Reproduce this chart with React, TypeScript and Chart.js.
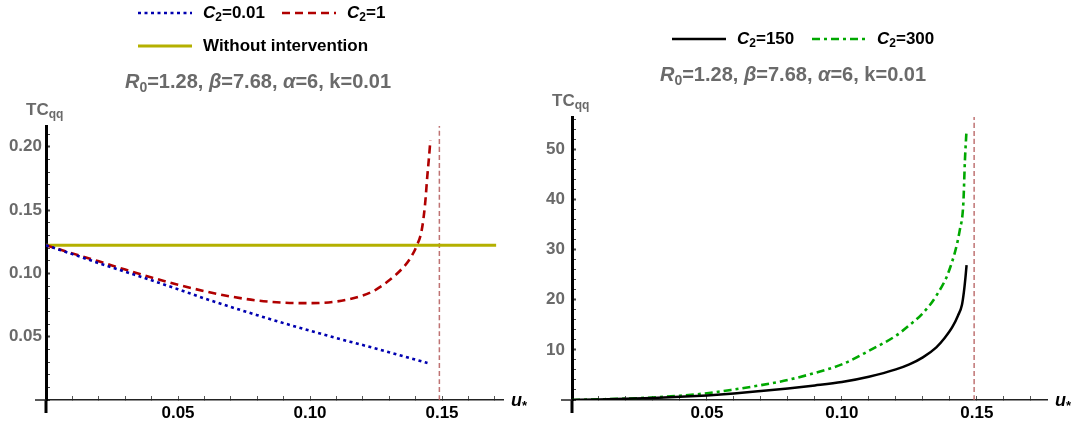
import React, { useEffect, useRef } from "react";
import { Chart, registerables } from "chart.js";

Chart.register(...registerables);

const FONT = '"Liberation Sans", Arial, Helvetica, sans-serif';
const GRAY = "#6a6a6a";

// ---------- Left panel data ----------
const U_C2_001 = [0, 0.01, 0.02, 0.03, 0.04, 0.05, 0.06, 0.07, 0.08, 0.09, 0.1, 0.11, 0.12, 0.13, 0.14, 0.1445];
const TC_C2_001 = [0.1222, 0.1152, 0.1081, 0.1013, 0.0945, 0.0875, 0.0802, 0.0735, 0.067, 0.0607, 0.0547, 0.0489, 0.0434, 0.0377, 0.0319, 0.0293];

const U_C2_1 = [0, 0.01, 0.02, 0.03, 0.04, 0.05, 0.06, 0.07, 0.08, 0.09, 0.1, 0.11, 0.12, 0.125, 0.13, 0.135, 0.138, 0.1405, 0.1423, 0.1436, 0.1444, 0.145, 0.1456];
const TC_C2_1 = [0.1222, 0.1158, 0.1095, 0.103, 0.0968, 0.091, 0.086, 0.0817, 0.0786, 0.0769, 0.0765, 0.0778, 0.0825, 0.0872, 0.0945, 0.104, 0.112, 0.1222, 0.134, 0.155, 0.176, 0.19, 0.2053];

const U_NO_INTERVENTION = [0, 0.1705];
const TC_NO_INTERVENTION = [0.1222, 0.1222];

const U_THRESHOLD = 0.149;

const LEFT_X_MAX = 0.1731;
const LEFT_Y_MAX = 0.2164;
const LEFT_X_TICKS = [0, 0.01, 0.02, 0.03, 0.04, 0.05, 0.06, 0.07, 0.08, 0.09, 0.1, 0.11, 0.12, 0.13, 0.14, 0.15, 0.16, 0.17];
const LEFT_X_LABELS = ["", "", "", "", "", "0.05", "", "", "", "", "0.10", "", "", "", "", "0.15", "", ""];
const LEFT_Y_TICKS = [0, 0.01, 0.02, 0.03, 0.04, 0.05, 0.06, 0.07, 0.08, 0.09, 0.1, 0.11, 0.12, 0.13, 0.14, 0.15, 0.16, 0.17, 0.18, 0.19, 0.2, 0.21];
const LEFT_Y_LABELS = ["", "", "", "", "", "0.05", "", "", "", "", "0.10", "", "", "", "", "0.15", "", "", "", "", "0.20", ""];

// ---------- Right panel data ----------
const U_C2_150 = [0, 0.01, 0.02, 0.03, 0.04, 0.05, 0.06, 0.07, 0.08, 0.09, 0.1, 0.11, 0.12, 0.125, 0.13, 0.135, 0.138, 0.141, 0.143, 0.1445, 0.1452, 0.1458, 0.1462];
const TC_C2_150 = [0, 0.1, 0.24, 0.42, 0.64, 0.92, 1.3, 1.78, 2.3, 2.9, 3.6, 4.65, 6.1, 7.1, 8.5, 10.5, 12.3, 14.6, 16.8, 19.0, 21.5, 24.5, 26.9];

const U_C2_300 = [0, 0.01, 0.02, 0.03, 0.04, 0.05, 0.06, 0.07, 0.08, 0.09, 0.1, 0.11, 0.12, 0.125, 0.13, 0.135, 0.14, 0.1437, 0.145, 0.1456, 0.1462];
const TC_C2_300 = [0, 0.13, 0.28, 0.5, 0.85, 1.35, 2.1, 2.95, 4.0, 5.4, 7.1, 9.8, 12.8, 14.9, 17.3, 20.8, 26.2, 33.9, 39.2, 47.9, 53.9];

const RIGHT_X_MAX = 0.176;
const RIGHT_Y_MAX = 56.4;
const RIGHT_X_TICKS = LEFT_X_TICKS;
const RIGHT_X_LABELS = LEFT_X_LABELS;
const RIGHT_Y_TICKS = [0, 2, 4, 6, 8, 10, 12, 14, 16, 18, 20, 22, 24, 26, 28, 30, 32, 34, 36, 38, 40, 42, 44, 46, 48, 50, 52, 54, 56];
const RIGHT_Y_LABELS = ["", "", "", "", "", "10", "", "", "", "", "20", "", "", "", "", "30", "", "", "", "", "40", "", "", "", "", "50", "", "", ""];

const TITLE = "$R$_{0}=1.28, $β$=7.68, $α$=6, k=0.01";

// ---------- rich text helpers ----------
type Seg = { t: string; it: boolean; sub: boolean };

function parseRich(src: string): Seg[] {
  const out: Seg[] = [];
  let it = false;
  let buf = "";
  const flush = () => {
    if (buf) out.push({ t: buf, it, sub: false });
    buf = "";
  };
  for (let i = 0; i < src.length; i++) {
    const c = src[i];
    if (c === "$") {
      flush();
      it = !it;
    } else if (c === "_" && src[i + 1] === "{") {
      flush();
      const end = src.indexOf("}", i);
      out.push({ t: src.slice(i + 2, end), it: false, sub: true });
      i = end;
    } else {
      buf += c;
    }
  }
  flush();
  return out;
}

function drawRich(ctx: CanvasRenderingContext2D, src: string, x: number, y: number, size: number, color: string, align: "left" | "center") {
  const segs = parseRich(src);
  const fontFor = (s: Seg) => `${s.it ? "italic " : ""}bold ${s.sub ? Math.round(size * 0.72) : size}px ${FONT}`;
  let total = 0;
  for (const s of segs) {
    ctx.font = fontFor(s);
    total += ctx.measureText(s.t).width;
  }
  let cx = align === "center" ? x - total / 2 : x;
  ctx.fillStyle = color;
  ctx.textBaseline = "middle";
  ctx.textAlign = "left";
  for (const s of segs) {
    ctx.font = fontFor(s);
    ctx.fillText(s.t, cx, s.sub ? y + size * 0.3 : y);
    cx += ctx.measureText(s.t).width;
  }
}

type Decor = {
  legendRows: number[][];
  legendCols: number[];
  legendRowY: number[];
  titleX: number;
  titleY: number;
};

function decorPlugin(d: Decor) {
  return {
    id: "decor",
    afterDraw(chart: any) {
      const { ctx, chartArea, scales } = chart;
      const x0 = scales.x.getPixelForValue(0);
      const y0 = scales.y.getPixelForValue(0);
      ctx.save();
      // axis stubs beyond the origin
      ctx.setLineDash([]);
      ctx.strokeStyle = "#000";
      ctx.lineWidth = 3;
      ctx.beginPath();
      ctx.moveTo(x0, y0);
      ctx.lineTo(x0, y0 + 13);
      ctx.stroke();
      ctx.strokeStyle = "#222";
      ctx.lineWidth = 1.5;
      ctx.beginPath();
      ctx.moveTo(x0 - 11, y0);
      ctx.lineTo(x0, y0);
      ctx.stroke();
      // legend
      d.legendRows.forEach((row, r) =>
        row.forEach((di, c) => {
          const ds = chart.data.datasets[di];
          const lx = d.legendCols[c];
          const ly = d.legendRowY[r];
          ctx.setLineDash(ds.borderDash || []);
          ctx.strokeStyle = ds.borderColor;
          ctx.lineWidth = ds.borderWidth;
          ctx.beginPath();
          ctx.moveTo(lx, ly);
          ctx.lineTo(lx + 54, ly);
          ctx.stroke();
          ctx.setLineDash([]);
          drawRich(ctx, ds.label, lx + 65, ly, 17, "#000", "left");
        })
      );
      // title
      drawRich(ctx, TITLE, d.titleX, d.titleY, 20, GRAY, "center");
      // axis labels
      drawRich(ctx, "TC_{qq}", x0 - 20, chartArea.top - 16, 17, GRAY, "left");
      drawRich(ctx, "$u$_{*}", chartArea.right + 8, y0 + 1, 18, "#000", "left");
      ctx.restore();
    },
  };
}

function pts(u: number[], v: number[]) {
  return u.map((x, i) => ({ x, y: v[i] }));
}

function xScale(max: number, ticks: number[], labels: string[]) {
  return {
    type: "linear",
    min: 0,
    max,
    afterBuildTicks: (s: any) => {
      s.ticks = ticks.map((value) => ({ value }));
    },
    afterFit: (s: any) => {
      s.height = 32;
    },
    border: { display: true, color: "#222", width: 1.5 },
    grid: { display: true, drawOnChartArea: false, drawTicks: true, tickLength: -4, tickColor: "#555", tickWidth: 1 },
    ticks: {
      autoSkip: false,
      maxRotation: 0,
      minRotation: 0,
      padding: 7,
      color: "#000",
      font: { family: FONT, size: 17, weight: "bold" },
      callback: (_v: any, i: number) => labels[i] ?? "",
    },
  };
}

function yScale(max: number, ticks: number[], labels: string[], width: number, pad: number) {
  return {
    type: "linear",
    min: 0,
    max,
    afterBuildTicks: (s: any) => {
      s.ticks = ticks.map((value) => ({ value }));
    },
    afterFit: (s: any) => {
      s.width = width;
    },
    border: { display: true, color: "#000", width: 3 },
    grid: {
      display: true,
      drawOnChartArea: false,
      drawTicks: true,
      tickLength: -4,
      tickColor: "#444",
      tickWidth: (c: any) => (labels[c.index] ? 2 : 1),
    },
    ticks: {
      autoSkip: false,
      padding: pad,
      color: GRAY,
      font: { family: FONT, size: 17, weight: "bold" },
      callback: (_v: any, i: number) => labels[i] ?? "",
    },
  };
}

const lineBase = { pointRadius: 0, fill: false, cubicInterpolationMode: "monotone", borderCapStyle: "butt" };

function leftConfig(): any {
  return {
    type: "line",
    data: {
      datasets: [
        { ...lineBase, label: "$C$_{2}=0.01", data: pts(U_C2_001, TC_C2_001), borderColor: "#0000b0", borderWidth: 2.6, borderDash: [3, 3.5] },
        { ...lineBase, label: "$C$_{2}=1", data: pts(U_C2_1, TC_C2_1), borderColor: "#b00000", borderWidth: 2.6, borderDash: [8, 5] },
        { ...lineBase, label: "Without intervention", data: pts(U_NO_INTERVENTION, TC_NO_INTERVENTION), borderColor: "#b4b000", borderWidth: 2.8 },
        { ...lineBase, label: "threshold", data: [{ x: U_THRESHOLD, y: 0 }, { x: U_THRESHOLD, y: LEFT_Y_MAX }], borderColor: "rgba(180,90,90,0.85)", borderWidth: 1.5, borderDash: [5, 3] },
      ],
    },
    options: {
      animation: false,
      responsive: false,
      maintainAspectRatio: false,
      events: [],
      layout: { padding: { left: 0, top: 126, right: 33, bottom: 0 } },
      plugins: { legend: { display: false }, title: { display: false }, tooltip: { enabled: false } },
      scales: {
        x: xScale(LEFT_X_MAX, LEFT_X_TICKS, LEFT_X_LABELS),
        y: yScale(LEFT_Y_MAX, LEFT_Y_TICKS, LEFT_Y_LABELS, 46, 8),
      },
    },
    plugins: [decorPlugin({ legendRows: [[0, 1], [2]], legendCols: [138, 282], legendRowY: [13, 46], titleX: 258, titleY: 82 })],
  };
}

function rightConfig(): any {
  return {
    type: "line",
    data: {
      datasets: [
        { ...lineBase, label: "$C$_{2}=150", data: pts(U_C2_150, TC_C2_150), borderColor: "#000000", borderWidth: 2.5 },
        { ...lineBase, label: "$C$_{2}=300", data: pts(U_C2_300, TC_C2_300), borderColor: "#00a800", borderWidth: 2.6, borderDash: [8, 4, 3, 4] },
        { ...lineBase, label: "threshold", data: [{ x: U_THRESHOLD, y: 0 }, { x: U_THRESHOLD, y: RIGHT_Y_MAX }], borderColor: "rgba(180,90,90,0.85)", borderWidth: 1.5, borderDash: [5, 3] },
      ],
    },
    options: {
      animation: false,
      responsive: false,
      maintainAspectRatio: false,
      events: [],
      layout: { padding: { left: 0, top: 117, right: 25, bottom: 0 } },
      plugins: { legend: { display: false }, title: { display: false }, tooltip: { enabled: false } },
      scales: {
        x: xScale(RIGHT_X_MAX, RIGHT_X_TICKS, RIGHT_X_LABELS),
        y: yScale(RIGHT_Y_MAX, RIGHT_Y_TICKS, RIGHT_Y_LABELS, 36, 11),
      },
    },
    plugins: [decorPlugin({ legendRows: [[0, 1]], legendCols: [136, 276], legendRowY: [39], titleX: 257, titleY: 75 })],
  };
}

function Panel({ makeConfig, left }: { makeConfig: () => any; left: number }) {
  const ref = useRef<HTMLCanvasElement | null>(null);
  useEffect(() => {
    const chart = new Chart(ref.current as HTMLCanvasElement, makeConfig());
    return () => chart.destroy();
  }, []);
  return (
    <canvas
      ref={ref}
      width={536}
      height={432}
      style={{ position: "absolute", left, top: 0, width: 536, height: 432, display: "block" }}
    />
  );
}

export default function App() {
  return (
    <div style={{ position: "absolute", left: 0, top: 0, width: 1072, height: 432, background: "#fff", overflow: "hidden" }}>
      <Panel makeConfig={leftConfig} left={0} />
      <Panel makeConfig={rightConfig} left={536} />
    </div>
  );
}
